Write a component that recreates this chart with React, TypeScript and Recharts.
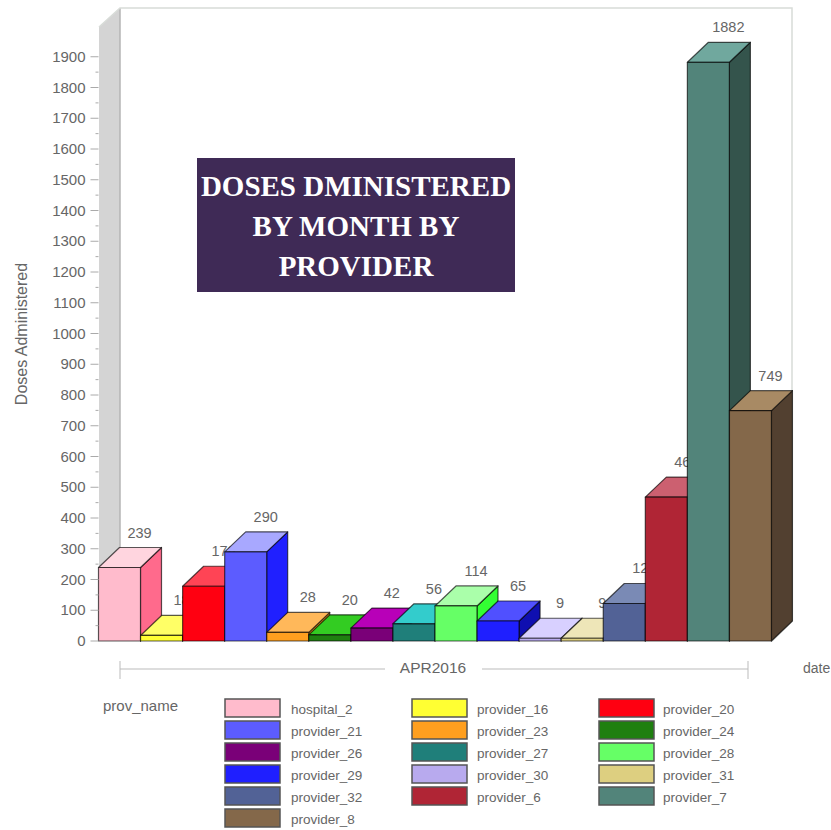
import React from 'react';
import { BarChart, Bar, XAxis, YAxis, Customized } from 'recharts';

const providers = [
  'hospital_2', 'provider_16', 'provider_20', 'provider_21', 'provider_23', 'provider_24',
  'provider_26', 'provider_27', 'provider_28', 'provider_29', 'provider_30', 'provider_31',
  'provider_32', 'provider_6', 'provider_7', 'provider_8',
];
const doses = [239, 18, 178, 290, 28, 20, 42, 56, 114, 65, 9, 9, 122, 468, 1882, 749];

// front, side and top face of each bar
const frontColors = [
  '#ffbbcc', '#ffff33', '#ff0011', '#5c5cff', '#ff9f1f', '#1f7f10', '#7a0078', '#1f7f7a',
  '#66ff66', '#1f1fff', '#b8aaee', '#ddcf80', '#526296', '#b02535', '#52847a', '#84684a',
];
const sideColors = [
  '#ff6a8c', '#c8c820', '#b0000c', '#2020ff', '#c87810', '#125c08', '#50004e', '#125c58',
  '#33ff33', '#0f0fb0', '#9a8cd0', '#b8aa60', '#3c4a78', '#861a28', '#34544c', '#524030',
];
const topColors = [
  '#ffd5df', '#ffff66', '#ff4455', '#a8a8ff', '#ffb85a', '#33cc22', '#b800b8', '#33cccc',
  '#aaffaa', '#5050ff', '#d8d0ff', '#eee6b8', '#7a8ab5', '#cc6070', '#70a89e', '#a88a64',
];

const yTicks = [
  0, 50, 100, 150, 200, 250, 300, 350, 400, 450, 500, 550, 600, 650, 700, 750, 800, 850, 900, 950,
  1000, 1050, 1100, 1150, 1200, 1250, 1300, 1350, 1400, 1450, 1500, 1550, 1600, 1650, 1700, 1750,
  1800, 1850, 1900,
];

const titleLines = ['DOSES DMINISTERED', 'BY MONTH BY', 'PROVIDER'];
const legendColumns = 3;

const chartData = providers.map((name, i) => ({ name, value: doses[i] }));

const SANS = '"Liberation Sans", Arial, sans-serif';
const TEXT = '#666';
const EDGE = 'rgba(0,0,0,0.65)';

// depth of the fake 3D extrusion
const DX = 21;
const DY = 20;

const Bar3D = (props: any) => {
  const { x, y, width, height, index, payload } = props;
  const x2 = x + width;
  const y2 = y + height;
  return (
    <g stroke={EDGE} strokeWidth={1.2} strokeLinejoin="round">
      <polygon
        points={`${x2},${y} ${x2 + DX},${y - DY} ${x2 + DX},${y2 - DY} ${x2},${y2}`}
        fill={sideColors[index]}
      />
      <polygon
        points={`${x},${y} ${x + DX},${y - DY} ${x2 + DX},${y - DY} ${x2},${y}`}
        fill={topColors[index]}
      />
      <rect x={x} y={y} width={width} height={height} fill={frontColors[index]} />
      <text
        x={x + width / 2 + DX - 1}
        y={y - DY - 10}
        textAnchor="middle"
        fontFamily={SANS}
        fontSize={14.5}
        fill={TEXT}
        stroke="none"
      >
        {payload.value}
      </text>
    </g>
  );
};

const YTick = (props: any) => {
  const { x, y, payload } = props;
  // the axis hands over a position left of the plot, so step back to the wall
  const edge = x + 8;
  const major = payload.value % 100 === 0;
  return (
    <g>
      <line x1={major ? edge - 8 : edge - 3} x2={edge} y1={y} y2={y} stroke="#aaa" />
      {major && (
        <text x={edge - 13} y={y + 5} textAnchor="end" fontFamily={SANS} fontSize={15} fill={TEXT}>
          {payload.value}
        </text>
      )}
    </g>
  );
};

// back wall, left wall and floor edge behind the bars
const Walls = () => (
  <g>
    <polygon points="99,27 120,8 120,621 99,641" fill="#d4d4d4" />
    <line x1={120} y1={8} x2={120} y2={621} stroke="#b4b4b4" strokeWidth={1.5} />
    <polyline points="99,27 120,8 792,8 792,621 772,641" fill="none" stroke="#d8dcd8" strokeWidth={1.5} />
    <text
      transform="translate(27,334) rotate(-90)"
      textAnchor="middle"
      fontFamily={SANS}
      fontSize={16}
      fill={TEXT}
    >
      Doses Administered
    </text>
  </g>
);

const DateBracket = () => (
  <g stroke="#bbb" strokeWidth={1}>
    <line x1={120} x2={385} y1={669} y2={669} />
    <line x1={482} x2={748} y1={669} y2={669} />
    <line x1={120} x2={120} y1={661} y2={679} />
    <line x1={748} x2={748} y1={661} y2={679} />
    <text x={433} y={673} textAnchor="middle" fontFamily={SANS} fontSize={15.5} fill={TEXT} stroke="none">
      APR2016
    </text>
    <text x={803} y={673} fontFamily={SANS} fontSize={14} fill={TEXT} stroke="none">
      date
    </text>
  </g>
);

const ProviderLegend = () => (
  <g fontFamily={SANS} fontSize={13.5} fill={TEXT}>
    <text x={103} y={711} fontSize={15}>prov_name</text>
    {providers.map((name, i) => {
      const col = i % legendColumns;
      const row = Math.floor(i / legendColumns);
      const top = 699 + row * 22;
      return (
        <g key={name}>
          <rect
            x={225 + col * 187}
            y={top}
            width={55}
            height={18}
            fill={frontColors[i]}
            stroke="#555"
            strokeWidth={1.5}
          />
          <text x={291 + col * 186} y={top + 15}>{name}</text>
        </g>
      );
    })}
  </g>
);

const App = () => (
  <div style={{ position: 'absolute', left: 0, top: 0, width: 831, height: 830, overflow: 'hidden', background: '#fff' }}>
    <BarChart
      width={831}
      height={830}
      data={chartData}
      barCategoryGap={0}
      margin={{ top: 26, right: 59.5, bottom: 189, left: 0 }}
    >
      <Customized component={Walls} />
      <XAxis dataKey="name" hide />
      <YAxis
        width={98.5}
        domain={[0, 2000]}
        ticks={yTicks}
        interval={0}
        axisLine={false}
        tickLine={false}
        tick={<YTick />}
      />
      <Bar dataKey="value" isAnimationActive={false} shape={<Bar3D />} />
      <Customized component={DateBracket} />
      <Customized component={ProviderLegend} />
    </BarChart>
    <div
      style={{
        position: 'absolute',
        left: 197,
        top: 158,
        width: 318,
        height: 134,
        background: '#3f2a56',
        color: '#fff',
        fontFamily: '"Liberation Serif", serif',
        fontWeight: 700,
        fontSize: 29,
        lineHeight: '40px',
        textAlign: 'center',
        paddingTop: 8,
        boxSizing: 'border-box',
      }}
    >
      {titleLines.map((line) => (
        <div key={line}>{line}</div>
      ))}
    </div>
  </div>
);

export default App;
